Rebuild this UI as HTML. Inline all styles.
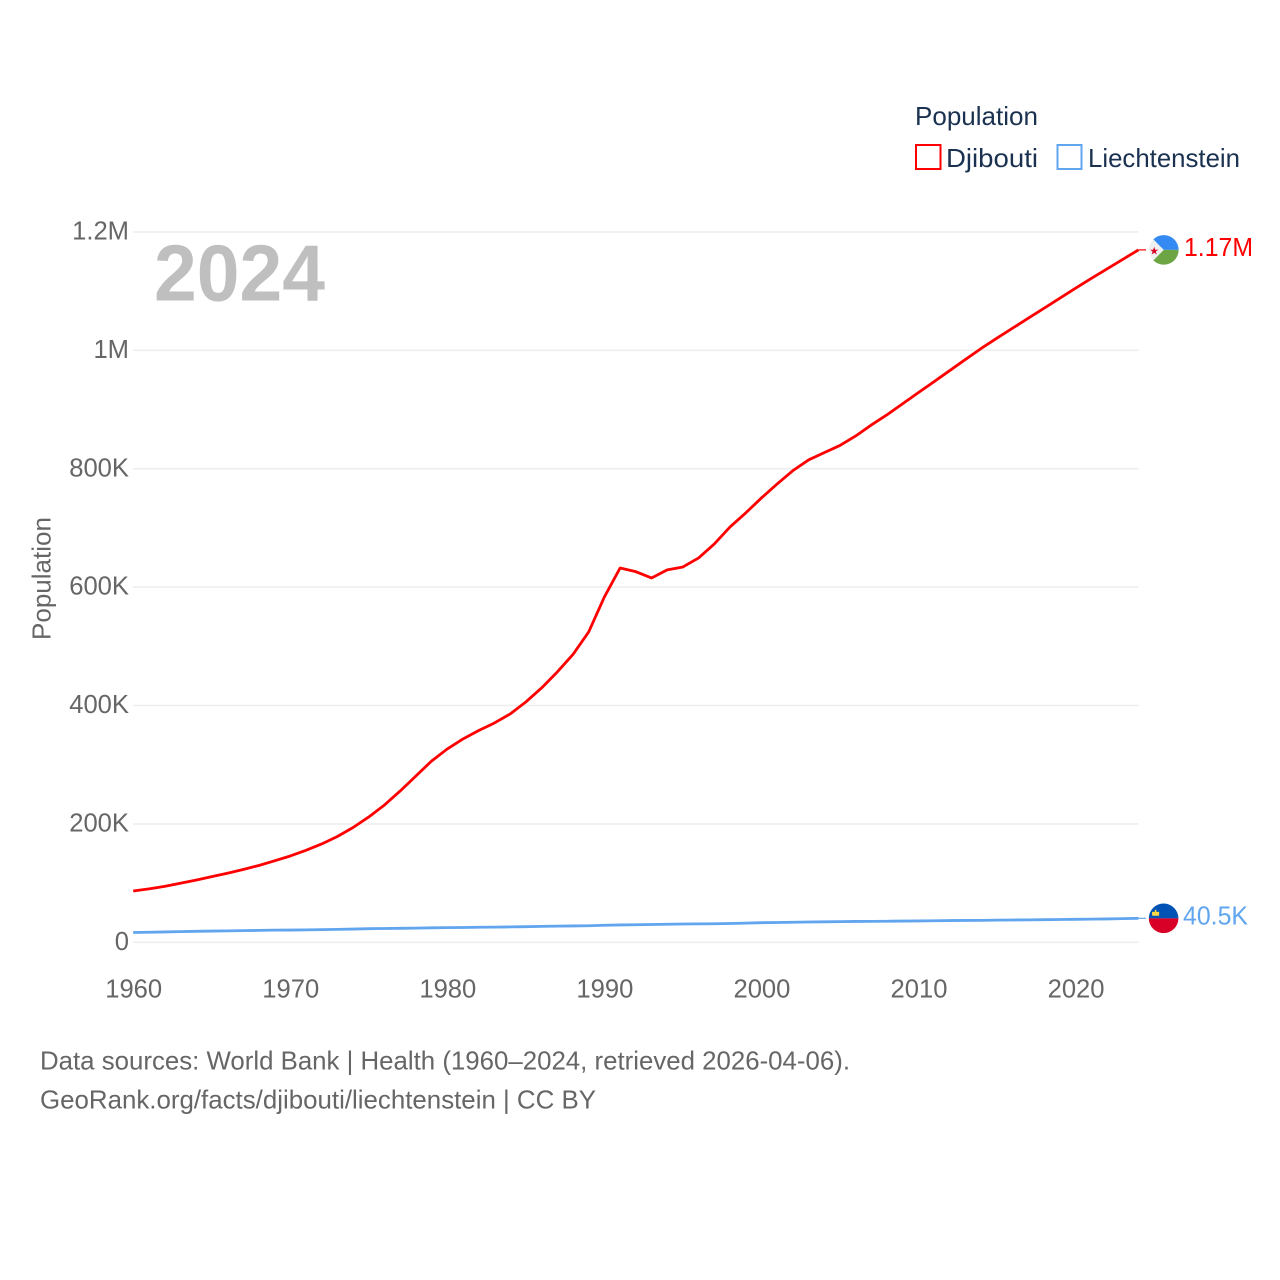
<!DOCTYPE html>
<html lang="en">
<head>
<meta charset="utf-8">
<title>Population: Djibouti and Liechtenstein</title>
<style>
html,body{margin:0;padding:0;background:#fff;width:1280px;height:1280px;overflow:hidden}
svg{display:block;font-family:"Liberation Sans",sans-serif}
</style>
</head>
<body>
<svg id="chart" xmlns="http://www.w3.org/2000/svg" width="1280" height="1280" viewBox="0 0 1280 1280">
  <rect width="1280" height="1280" fill="#ffffff"/>
  <g id="grid"></g>
  <text x="154" y="300.5" font-size="80" font-weight="700" fill="#bfbfbf" textLength="171" lengthAdjust="spacingAndGlyphs">2024</text>
  <g id="yticks"></g>
  <g id="xticks"></g>
  <text transform="translate(50.5,640) rotate(-90)" font-size="25.6" fill="#666666" textLength="123" lengthAdjust="spacingAndGlyphs">Population</text>
  <g id="series"></g>
  <g>
    <text x="915" y="125" font-size="25.6" fill="#1a3150" textLength="123" lengthAdjust="spacingAndGlyphs">Population</text>
    <g>
      <rect x="916" y="145" width="24.5" height="24" fill="#ffffff" stroke="#ff0000" stroke-width="2"/>
      <text x="946" y="167" font-size="25.6" fill="#1a3150" textLength="92" lengthAdjust="spacingAndGlyphs">Djibouti</text>
    </g>
    <g>
      <rect x="1057.5" y="145" width="24" height="24" fill="#ffffff" stroke="#60a5ee" stroke-width="2"/>
      <text x="1088" y="167" font-size="25.6" fill="#1a3150" textLength="152" lengthAdjust="spacingAndGlyphs">Liechtenstein</text>
    </g>
  </g>
  <text x="40" y="1069.5" font-size="25.6" fill="#666666" textLength="810" lengthAdjust="spacingAndGlyphs">Data sources: World Bank | Health (1960–2024, retrieved 2026-04-06).</text>
  <text x="40" y="1108.5" font-size="25.6" fill="#666666" textLength="556" lengthAdjust="spacingAndGlyphs">GeoRank.org/facts/djibouti/liechtenstein | CC BY</text>
</svg>
<script>
const years = [1960,1961,1962,1963,1964,1965,1966,1967,1968,1969,1970,1971,1972,1973,1974,1975,1976,1977,1978,1979,1980,1981,1982,1983,1984,1985,1986,1987,1988,1989,1990,1991,1992,1993,1994,1995,1996,1997,1998,1999,2000,2001,2002,2003,2004,2005,2006,2007,2008,2009,2010,2011,2012,2013,2014,2015,2016,2017,2018,2019,2020,2021,2022,2023,2024];
// Population in thousands
const djibouti = [86.7,90.2,94.4,99.7,105.1,111,116.7,123,129.7,137.7,145.8,155.4,166.1,178.7,193.9,211.7,232,255.6,281,306.3,326.6,343.5,357.8,370.5,385.7,406,429.6,456.6,486.2,524.2,583.4,632.3,626.1,615.4,629,634,649.2,672.9,701.6,725.3,750.6,774.3,796.7,814.8,827.1,839.3,855.3,873.9,891.2,909.9,928.7,947.2,966,984.8,1003.3,1020.6,1037.5,1054.4,1071.1,1088,1104.9,1121.3,1137.5,1153.5,1169.6];
const liechtenstein = [16.5,17,17.5,18,18.6,19,19.3,19.7,20.1,20.5,20.7,21,21.4,21.9,22.4,23,23.3,23.6,24,24.5,24.8,25,25.4,25.7,26,26.4,26.9,27.3,27.6,28,28.8,29.3,29.7,30.1,30.5,30.9,31.1,31.3,31.8,32.4,33.1,33.5,33.9,34.3,34.6,34.9,35.2,35.4,35.6,35.9,36.1,36.4,36.7,36.9,37.1,37.4,37.7,37.9,38.2,38.5,38.8,39.1,39.5,40,40.5];
const yTickValues = [0,200,400,600,800,1000,1200];
const yTickLabels = ["0","200K","400K","600K","800K","1M","1.2M"];
const xTickValues = [1960,1970,1980,1990,2000,2010,2020];

const NS = "http://www.w3.org/2000/svg";
function xScale(year){ return 133.2 + (year - 1960) * (1138.4 - 133.2) / 64; }
function yScale(v){ return 942.3 - v * (942.3 - 231.9) / 1200; }
function make(tag, attrs, parent){
  const el = document.createElementNS(NS, tag);
  for (const k in attrs) el.setAttribute(k, attrs[k]);
  parent.appendChild(el);
  return el;
}
function formatValue(v){
  return v >= 1000 ? (v / 1000).toFixed(2) + "M" : v.toFixed(1) + "K";
}

const gridG = document.getElementById("grid");
const yG = document.getElementById("yticks");
const xG = document.getElementById("xticks");
const seriesG = document.getElementById("series");

yTickValues.forEach(function(v, i){
  const y = yScale(v);
  const line = make("line", {x1:133, x2:1138.5, y1:y, y2:y, stroke:"#eeeeee", "stroke-width":1.6}, gridG);
  
  
  const t = make("text", {x:129, y:y + 7.6, "text-anchor":"end", "font-size":25.6, fill:"#666666"}, yG);
  t.textContent = yTickLabels[i];
  
  
});

xTickValues.forEach(function(year){
  const t = make("text", {x:xScale(year) + 0.5, y:997.5, "text-anchor":"middle", "font-size":25.6, fill:"#666666"}, xG);
  t.textContent = String(year);
  
  
});

function drawSeries(values, color, name){
  const d = values.map(function(v, i){
    return (i ? "L" : "M") + xScale(years[i]).toFixed(2) + " " + yScale(v).toFixed(2);
  }).join(" ");
  const path = make("path", {d:d, fill:"none", stroke:color, "stroke-width":2.8, "stroke-linejoin":"round"}, seriesG);
  
  
  const last = values[values.length - 1];
  const ly = yScale(last);
  const lx = xScale(years[years.length - 1]);
  const leader = make("line", {x1:lx, x2:1146, y1:ly, y2:ly, stroke:color, "stroke-width":1.2}, seriesG);
  
  
  return ly;
}

const dy = drawSeries(djibouti, "#ff0000", "djibouti");
const ly = drawSeries(liechtenstein, "#60a5ee", "liechtenstein");

// Djibouti flag and end label
const df = make("g", {transform:"translate(1163.8," + dy + ")"}, seriesG);


make("circle", {cx:0, cy:0, r:14.8, fill:"#f0f0f0"}, df);
make("path", {d:"M-10.4 -10.5 A14.8 14.8 0 0 1 14.8 0 L0 0 Z", fill:"#338af3"}, df);
make("path", {d:"M-10.4 10.5 A14.8 14.8 0 0 0 14.8 0 L0 0 Z", fill:"#6da544"}, df);
make("polygon", {points:"-9.6,-3.2 -8.6,-0.2 -5.5,-0.2 -8,1.6 -7.1,4.6 -9.6,2.8 -12.1,4.6 -11.2,1.6 -13.7,-0.2 -10.6,-0.2", fill:"#d80027"}, df);
const dl = make("text", {x:1184, y:dy + 6, "font-size":25.6, fill:"#ff0000", textLength:69, lengthAdjust:"spacingAndGlyphs"}, seriesG);
dl.textContent = formatValue(djibouti[djibouti.length - 1]);



// Liechtenstein flag and end label
const lf = make("g", {transform:"translate(1163.6," + ly + ")"}, seriesG);


make("path", {d:"M-14.8 0 A14.8 14.8 0 0 1 14.8 0 Z", fill:"#0052b4"}, lf);
make("path", {d:"M-14.8 0 A14.8 14.8 0 0 0 14.8 0 Z", fill:"#d80027"}, lf);
make("path", {d:"M-11.4 -2.6 L-4.6 -2.6 L-4.4 -6.4 L-6.4 -6.4 L-7.3 -6.6 L-7.3 -8.6 L-8.7 -8.6 L-8.7 -6.6 L-11.6 -6.4 Z", fill:"#ffda44"}, lf);
const ll = make("text", {x:1183, y:ly + 6.4, "font-size":25.6, fill:"#60a5ee", textLength:65, lengthAdjust:"spacingAndGlyphs"}, seriesG);
ll.textContent = formatValue(liechtenstein[liechtenstein.length - 1]);


</script>
</body>
</html>
